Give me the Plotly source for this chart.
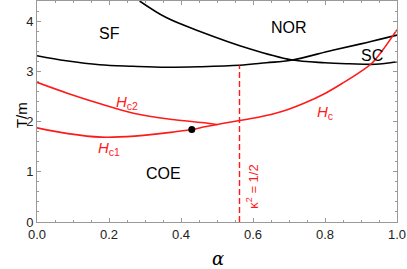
import plotly.graph_objects as go

# --- data ---
sf_alpha = [0.0, 0.081, 0.174, 0.266, 0.359, 0.451, 0.5625, 0.637, 0.706, 0.821, 0.914, 1.0]
sf_T =     [3.31, 3.21, 3.13, 3.10, 3.08, 3.09, 3.12, 3.17, 3.22, 3.42, 3.57, 3.72]

nor_alpha = [0.285, 0.359, 0.451, 0.59, 0.706, 0.80, 0.868, 0.94, 1.0]
nor_T =     [4.40, 4.07, 3.80, 3.45, 3.23, 3.17, 3.15, 3.14, 3.19]

hc2_alpha = [0.0, 0.086, 0.178, 0.271, 0.377, 0.47, 0.50]
hc2_T =     [2.78, 2.56, 2.35, 2.16, 2.04, 1.97, 1.94]

hc_alpha = [0.0, 0.086, 0.178, 0.271, 0.377, 0.43, 0.47, 0.5625, 0.618, 0.68, 0.74, 0.80, 0.85, 0.90, 0.93, 0.96, 1.0]
hc_T =     [1.875, 1.76, 1.69, 1.71, 1.79, 1.84, 1.90, 2.02, 2.09, 2.20, 2.36, 2.56, 2.77, 3.00, 3.16, 3.42, 3.83]

dot_alpha = [0.43]
dot_T = [1.84]

kappa_alpha = [0.5625, 0.5625]
kappa_T = [0.0, 3.12]

x_ticks = [0.0, 0.2, 0.4, 0.6, 0.8, 1.0]
x_ticklabels = ["0.0", "0.2", "0.4", "0.6", "0.8", "1.0"]
y_ticks = [0, 1, 2, 3, 4]
y_ticklabels = ["0", "1", "2", "3", "4"]

RED = "#ff1a1a"
FONT = "Liberation Sans, Arial, sans-serif"

fig = go.Figure()
for xs, ys in [(sf_alpha, sf_T), (nor_alpha, nor_T)]:
    fig.add_trace(go.Scatter(x=xs, y=ys, mode="lines", hoverinfo="skip",
                             line=dict(color="black", width=1.6, shape="spline", smoothing=1.0)))
for xs, ys in [(hc2_alpha, hc2_T), (hc_alpha, hc_T)]:
    fig.add_trace(go.Scatter(x=xs, y=ys, mode="lines", hoverinfo="skip",
                             line=dict(color=RED, width=1.6, shape="spline", smoothing=1.0)))
fig.add_trace(go.Scatter(x=kappa_alpha, y=kappa_T, mode="lines", hoverinfo="skip",
                         line=dict(color=RED, width=1.4, dash="6px,3px")))
fig.add_trace(go.Scatter(x=dot_alpha, y=dot_T, mode="markers", hoverinfo="skip",
                         marker=dict(color="black", size=7)))

ann = []
def label(x, y, text, color="black", size=16, angle=0):
    ann.append(dict(x=x, y=y, xref="x", yref="y", text=text, showarrow=False,
                    font=dict(color=color, size=size, family=FONT), textangle=angle))

label(0.20, 3.76, "SF")
label(0.70, 3.88, "NOR")
label(0.93, 3.31, "SC")
label(0.35, 0.97, "COE")
label(0.25, 2.38, "<i>H</i><sub>c2</sub>", RED, 15)
label(0.20, 1.47, "<i>H</i><sub>c1</sub>", RED, 15)
label(0.80, 2.18, "<i>H</i><sub>c</sub>", RED, 15)
label(0.597, 0.70, "κ<sup>2</sup> = 1/2", RED, 13, -90)

ann.append(dict(x=-0.07, y=0.485, xref="paper", yref="paper", text="T/m", showarrow=False,
                textangle=-90, font=dict(size=15, family=FONT, color="black")))
ann.append(dict(x=0.503, y=-0.163, xref="paper", yref="paper", text="<i>α</i>", showarrow=False,
                yanchor="middle", font=dict(size=18, family="DejaVu Serif, serif", color="black")))
fig.update_layout(annotations=ann)

axis_common = dict(showgrid=False, zeroline=False, showline=True, linecolor="#999999", linewidth=1,
                   mirror="allticks", ticks="inside", ticklen=4, tickcolor="#999999",
                   tickfont=dict(size=13, family=FONT, color="#222222"))
fig.update_xaxes(range=[0, 1], tickvals=x_ticks, ticktext=x_ticklabels,
                 minor=dict(dtick=0.05, ticks="inside", ticklen=2, tickcolor="#999999"),
                 **axis_common)
fig.update_yaxes(range=[0, 4.4], tickvals=y_ticks, ticktext=y_ticklabels,
                 minor=dict(dtick=0.2, ticks="inside", ticklen=2, tickcolor="#999999"),
                 **axis_common)

fig.update_layout(width=407, height=269, margin=dict(l=37, r=10, t=1, b=47),
                  plot_bgcolor="white", paper_bgcolor="white", showlegend=False,
                  hovermode=False, font=dict(family=FONT))
fig.write_html("out.html", config={"displayModeBar": False, "staticPlot": True},
               post_script="document.body.style.margin='0';document.body.style.overflow='hidden';")
